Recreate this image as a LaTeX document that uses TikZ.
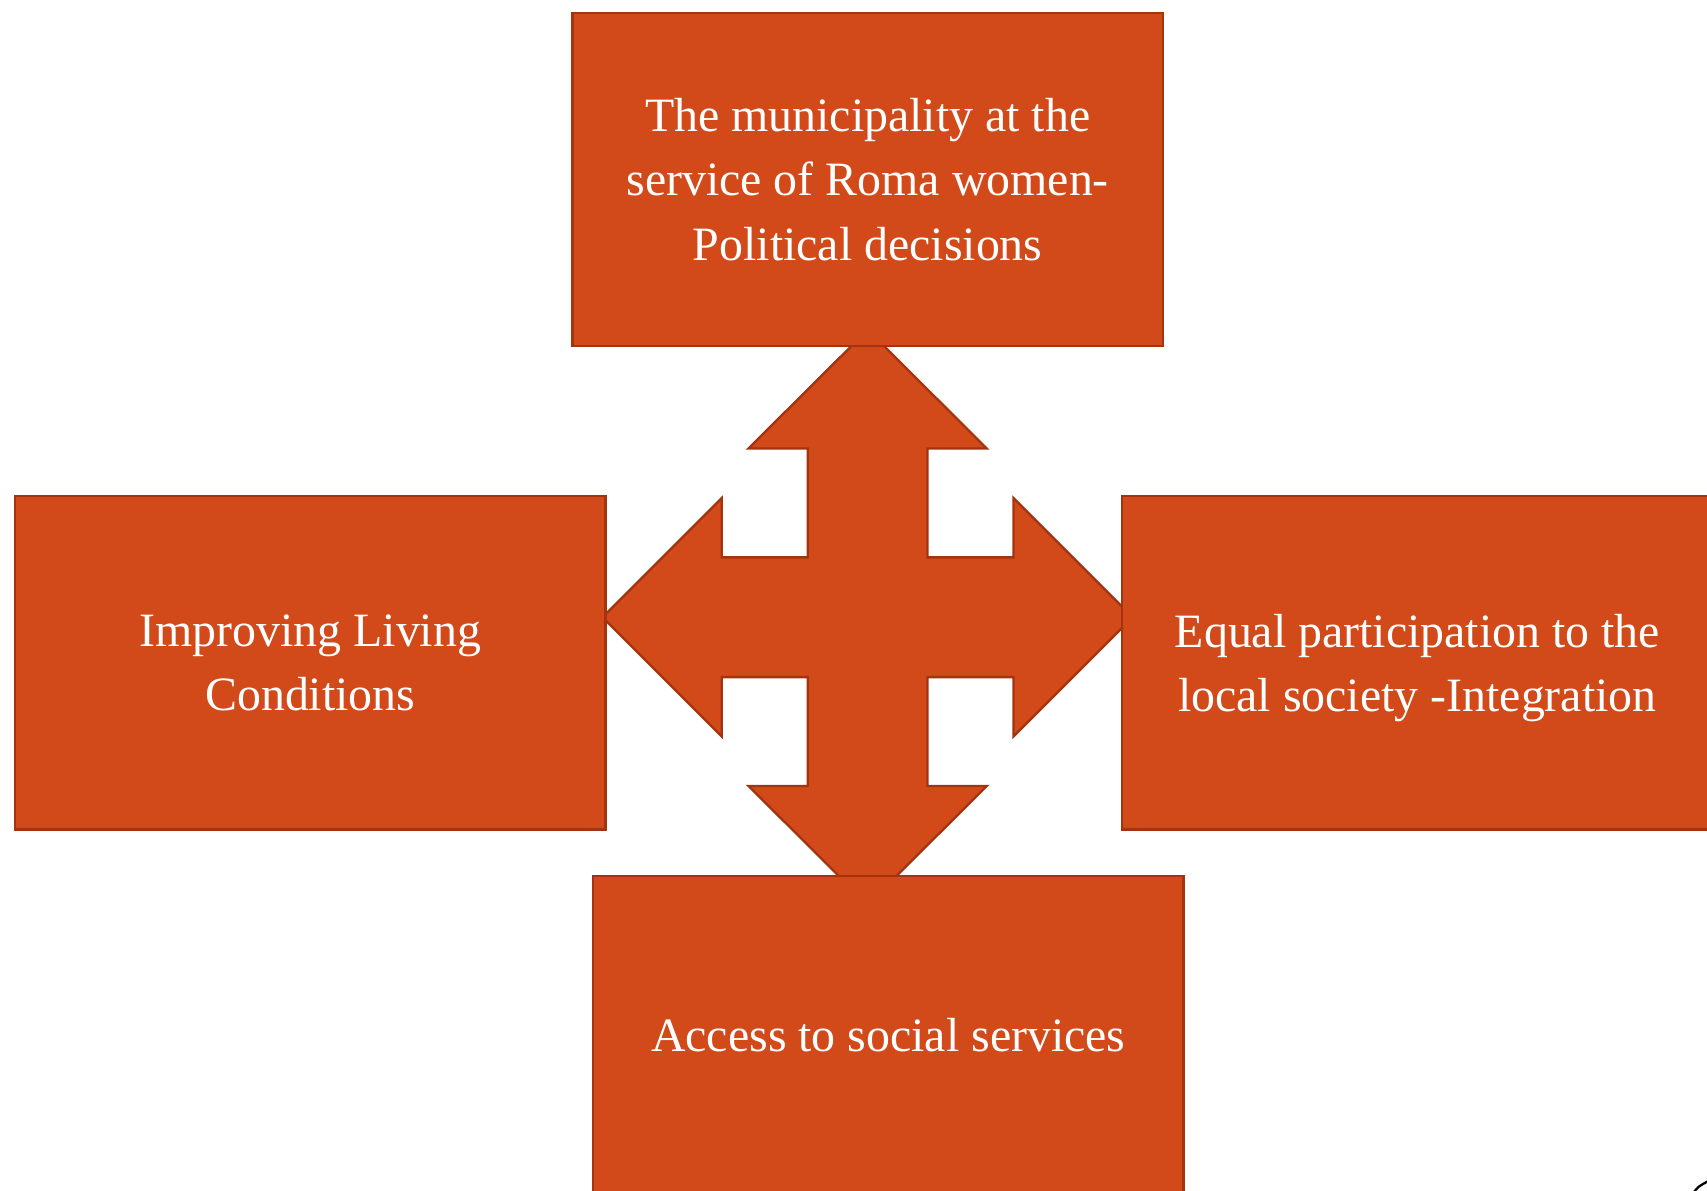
\documentclass[tikz,border=0pt]{standalone}
\usepackage{fontspec}
\setmainfont{Liberation Serif}
\usepackage{tikz}
\usetikzlibrary{positioning}

\definecolor{rust}{HTML}{D2491A}
\definecolor{rustdark}{HTML}{A3340F}

\begin{document}
\begin{tikzpicture}[x=0.01cm, y=0.01cm,
    box/.style={draw=rustdark, fill=rust, line width=0.6pt, rectangle, minimum width=5.42cm, minimum height=3.06cm, align=center, text=white, font=\fontsize{12.5}{16.8}\selectfont},
    quad/.style={draw=rustdark, fill=rust, line width=0.6pt, line join=miter}]
        \useasboundingbox (0,0) rectangle (1568,1094);
        \clip (0,0) rectangle (1568,1094);

        % four-way arrow in the middle, under the boxes
        \coordinate (hub) at (797,527);
        \draw[quad, shift={(hub)}] (0,264) -- (109.5,155) -- (55,155) -- (55,55) -- (134,55) -- (134,109.5)
            -- (243.5,0) -- (134,-109.5) -- (134,-55) -- (55,-55) -- (55,-155) -- (109.5,-155)
            -- (0,-264) -- (-109.5,-155) -- (-55,-155) -- (-55,-55) -- (-134,-55) -- (-134,-109.5)
            -- (-243.5,0) -- (-134,109.5) -- (-134,55) -- (-55,55) -- (-55,155) -- (-109.5,155) -- cycle;

        \node (policy) [box] at (797,929) {The municipality at the\\service of Roma women-\\Political decisions};
        \node (living) [box] at (285,485) {Improving Living\\Conditions};
        \node (integration) [box, text depth=0pt] at (1302,485) {Equal participation to the\\local society -Integration};
        \node (services) [box, text depth=4pt] at (816,136) {Access to social services};

        % stray stroke in the corner
        \draw[black, line width=0.6pt] (1556,-1) .. controls (1560,4) .. (1569,9);
    \end{tikzpicture}
\end{document}
